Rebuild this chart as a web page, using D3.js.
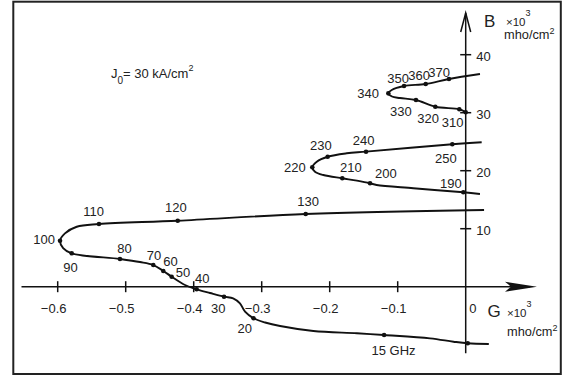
<!DOCTYPE html>
<html>
<head>
<meta charset="utf-8">
<script src="https://cdn.jsdelivr.net/npm/d3@7"></script>
<style>
  body { margin: 0; background: #fff; }
  svg text { font-family: "Liberation Sans", Arial, sans-serif; fill: #222; }
</style>
</head>
<body>
<div id="chart"></div>
<script>
// admittance locus, G and B in 10^-3 mho/cm^2
const gTicks = [-0.6, -0.5, -0.4, -0.3, -0.2, -0.1];
const bTicks = [10, 20, 30, 40];

// curve shape points [G, B]
const bandLow = [
  [0.034, -9.88], [0.003, -9.76], [-0.018, -9.48], [-0.0525, -8.9], [-0.120, -8.33],
  [-0.160, -8.03], [-0.224, -7.64], [-0.273, -6.78], [-0.295, -6.17], [-0.312, -5.45],
  [-0.3245, -4.31], [-0.332, -2.86], [-0.342, -2.0], [-0.3554, -1.72], [-0.376, -1.09],
  [-0.3956, -0.45], [-0.4128, 0.29], [-0.4324, 1.72], [-0.4447, 2.71], [-0.4594, 3.74],
  [-0.479, 4.26], [-0.5084, 4.78], [-0.5794, 5.76], [-0.592, 6.67], [-0.5966, 7.93],
  [-0.5893, 9.2], [-0.572, 10.34], [-0.5393, 10.81], [-0.4235, 11.38], [-0.2353, 12.53],
  [0.027, 13.22]
];
const bandMid = [
  [0.021, 15.98], [-0.0035, 16.28], [-0.077, 16.97], [-0.131, 17.53], [-0.1407, 17.83],
  [-0.160, 18.28], [-0.1815, 18.69], [-0.2094, 19.26], [-0.2216, 19.83], [-0.2256, 20.59],
  [-0.219, 21.55], [-0.203, 22.41], [-0.175, 23.0], [-0.1466, 23.28], [-0.0197, 24.55],
  [0.0235, 24.9]
];
const bandHigh = [
  [0, 30.07], [-0.0094, 30.59], [-0.0447, 31.03], [-0.0731, 32.19], [-0.0966, 32.53],
  [-0.1084, 32.79], [-0.1138, 33.34], [-0.1088, 33.91], [-0.0907, 34.6], [-0.0588, 34.95],
  [-0.0246, 35.81], [0.021, 36.67]
];

// marked frequencies (GHz)
const freqNames = ["15 GHz", "20", "30", "40", "50", "60", "70", "80", "90", "100", "110", "120", "130",
  "190", "200", "210", "220", "230", "240", "250",
  "310", "320", "330", "340", "350", "360", "370", "", ""];
const freqG = [-0.120, -0.312, -0.3554, -0.3956, -0.4324, -0.4447, -0.4594, -0.5084, -0.5794, -0.5966, -0.5393, -0.4235, -0.2353,
  -0.0035, -0.1407, -0.1815, -0.2256, -0.203, -0.1466, -0.0197,
  -0.0094, -0.0447, -0.0731, -0.1138, -0.0907, -0.0588, -0.0246, 0.003, 0];
const freqB = [-8.33, -5.45, -1.72, -0.45, 1.72, 2.71, 3.74, 4.78, 5.76, 7.93, 10.81, 11.38, 12.53,
  16.28, 17.83, 18.69, 20.59, 22.41, 23.28, 24.55,
  30.59, 31.03, 32.19, 33.34, 34.6, 34.95, 35.81, -9.76, 30.07];

// label placement relative to each dot (px)
const labelDX = [-12.6, -16, -13, -1.7, 4, 0, -6.6, -2.7, -8.4, -26.7, -15.7, -12.7, -8.4,
  -23.3, 5, -2.3, -28.3, -17.7, -13.3, -17.3,
  -17.6, -18, -26, -31, -16.7, -17.4, -20.7, 0, 0];
const labelDY = [20, 14.2, 16.3, -6.8, 0.3, -5, -5, -6, 18.4, 3.3, -8, -8.2, -8,
  -4.3, -5.3, -5.8, 4.4, -6.7, -6.7, 18.2,
  17.7, 16.3, 16, 4.7, -3.5, -4, -2.5, 0, 0];

const width = 563, height = 379;

const svg = d3.select("#chart").append("svg")
  .attr("width", width)
  .attr("height", height);

const x = d3.scaleLinear().domain([-0.6, 0]).range([57.7, 465.7]);
const y = d3.scaleLinear().domain([0, 40]).range([286.7, 54.7]);

// frame
svg.append("rect")
  .attr("x", 13.3).attr("y", 1.7)
  .attr("width", 547.5).attr("height", 372.3)
  .attr("fill", "none").attr("stroke", "#222").attr("stroke-width", 2);

// axes
const x0 = x(0), y0 = y(0);
svg.append("line").attr("x1", 21.5).attr("x2", 530).attr("y1", y0).attr("y2", y0)
  .attr("stroke", "#111").attr("stroke-width", 1.5);
svg.append("path")
  .attr("d", `M537,${y0} L505,${y0 - 5} L511,${y0} L505,${y0 + 5} Z`)
  .attr("fill", "#111");
svg.append("line").attr("x1", x0).attr("x2", x0).attr("y1", 13).attr("y2", 353.3)
  .attr("stroke", "#111").attr("stroke-width", 1.5);
svg.append("path")
  .attr("d", `M${x0 - 5},32 L${x0},13 L${x0 + 5},32`)
  .attr("fill", "none").attr("stroke", "#111").attr("stroke-width", 1.5);

gTicks.forEach(t => {
  svg.append("line").attr("x1", x(t)).attr("x2", x(t)).attr("y1", y0 - 5.5).attr("y2", y0 + 5.5)
    .attr("stroke", "#111").attr("stroke-width", 1.5);
  svg.append("text").attr("x", x(t) - 4).attr("y", y0 + 26.5)
    .attr("text-anchor", "middle").style("font-size", "13px")
    .text("\u2212" + Math.abs(t).toFixed(1));
});
svg.append("text").attr("x", x0 + 3.5).attr("y", y0 + 26.5).style("font-size", "13px").text("0");

bTicks.forEach(t => {
  svg.append("line").attr("x1", x0 - 5.5).attr("x2", x0 + 5.5).attr("y1", y(t)).attr("y2", y(t))
    .attr("stroke", "#111").attr("stroke-width", 1.5);
  svg.append("text").attr("x", x0 + 10.5).attr("y", y(t) + 6).style("font-size", "13px").text(t);
});

// axis titles with unit
function unitLabel(letter, lx, ly, ux, uy, mx, my) {
  svg.append("text").attr("x", lx).attr("y", ly).style("font-size", "17px").text(letter);
  const u = svg.append("text").attr("x", ux).attr("y", uy).style("font-size", "11.5px");
  u.append("tspan").text("\u00d710");
  u.append("tspan").attr("dy", -10).style("font-size", "9px").text("3");
  const m = svg.append("text").attr("x", mx).attr("y", my).style("font-size", "12.8px");
  m.append("tspan").text("mho/cm");
  m.append("tspan").attr("dy", -5).style("font-size", "9px").text("2");
}
unitLabel("B", 484, 26.7, 506, 26, 504, 38.5);
unitLabel("G", 487.5, 316.7, 507, 316.7, 507, 335.5);

// J0 annotation
const j = svg.append("text").attr("x", 111).attr("y", 78).style("font-size", "13px");
j.append("tspan").text("J");
j.append("tspan").attr("dy", 6).style("font-size", "10px").text("0");
j.append("tspan").attr("dy", -6).text("= 30 kA/cm");
j.append("tspan").attr("dy", -7).style("font-size", "9px").text("2");

// curve
const line = d3.line()
  .x(d => x(d[0]))
  .y(d => y(d[1]))
  .curve(d3.curveCatmullRom.alpha(0.5));

[bandLow, bandMid, bandHigh].forEach(seg => {
  svg.append("path")
    .attr("d", line(seg))
    .attr("fill", "none")
    .attr("stroke", "#111")
    .attr("stroke-width", 1.9);
});

// dots and labels
freqNames.forEach((name, i) => {
  svg.append("circle")
    .attr("cx", x(freqG[i])).attr("cy", y(freqB[i]))
    .attr("r", 2.3).attr("fill", "#111");
  if (name) {
    svg.append("text")
      .attr("x", x(freqG[i]) + labelDX[i])
      .attr("y", y(freqB[i]) + labelDY[i])
      .style("font-size", "13px")
      .text(name);
  }
});
</script>
</body>
</html>
